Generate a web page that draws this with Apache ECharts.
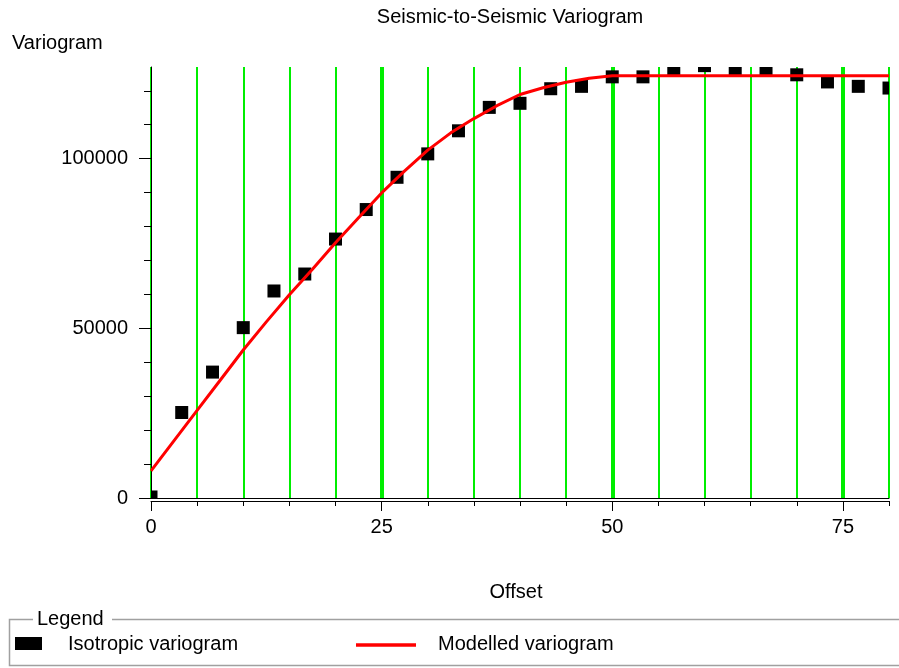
<!DOCTYPE html>
<html>
<head>
<meta charset="utf-8">
<title>Seismic-to-Seismic Variogram</title>
<script src="https://cdn.jsdelivr.net/npm/echarts@6/dist/echarts.min.js"></script>
<style>
  html, body { margin: 0; padding: 0; background: #ffffff; }
  #chart { width: 899px; height: 668px; }
</style>
</head>
<body>
<div id="chart"></div>
<script>
// Experimental (isotropic) variogram: lag offset and semivariance
const LAG_OFFSETS = [0, 3.33, 6.67, 10, 13.33, 16.67, 20, 23.33, 26.67, 30, 33.33, 36.67, 40,
                     43.33, 46.67, 50, 53.33, 56.67, 60, 63.33, 66.67, 70, 73.33, 76.67, 80];
const LAG_VARIOGRAM = [300, 25200, 37100, 50200, 61000, 66000, 76300, 85000, 94500, 101400, 108200,
                       115100, 116300, 120600, 121300, 124100, 124100, 126300, 127400, 126300,
                       126300, 124700, 122600, 121300, 120800];

// Fitted model curve
const MODEL_OFFSETS = [0, 2.5, 5, 7.5, 10, 12.5, 15, 17.5, 20, 22.5, 25, 27.5, 30, 32.5, 35, 37.5,
                       40, 42.5, 45, 47.5, 50, 55, 60, 65, 70, 75, 80];
const MODEL_VARIOGRAM = [8000, 16900, 25800, 34700, 43600, 51900, 59900, 67400, 75200, 82600, 89900,
                         96400, 102500, 107600, 111800, 115600, 118900, 120900, 122500, 123700,
                         124400, 124400, 124400, 124400, 124400, 124400, 124400];

// Axis ranges and tick labels
const X_MAX = 80;
const Y_MAX = 127000;
const X_TICK_LABELS = [0, 25, 50, 75];
const Y_TICK_LABELS = [0, 50000, 100000];
const Y_MINOR_TICKS = [10000, 20000, 30000, 40000, 60000, 70000, 80000, 90000, 110000, 120000];

const FONT_FAMILY = '"Liberation Sans", Arial, sans-serif';
const FONT = '20px ' + FONT_FAMILY;
const GREEN = '#00ee00';
const MARK_SIZE = 13;

const chart = echarts.init(document.getElementById('chart'), null, { renderer: 'canvas' });

const baseX = { type: 'value', min: 0, max: X_MAX, position: 'bottom' };
const baseY = { type: 'value', min: 0, max: Y_MAX, position: 'left', offset: 4, splitLine: { show: false } };

const option = {
  backgroundColor: '#ffffff',
  animation: false,
  grid: { left: 151, right: 10, top: 67, bottom: 170 },
  xAxis: [
    // fine grid every 5 + upper axis line
    Object.assign({}, baseX, {
      interval: 5, offset: 0,
      axisLine: { show: true, lineStyle: { color: '#000', width: 1 } },
      axisTick: { show: false }, axisLabel: { show: false },
      splitLine: { show: true, lineStyle: { color: GREEN, width: 2 } }
    }),
    // heavy grid every 25
    Object.assign({}, baseX, {
      interval: 25, offset: 0,
      axisLine: { show: false }, axisTick: { show: false }, axisLabel: { show: false },
      splitLine: { show: true, showMinLine: false, showMaxLine: false, lineStyle: { color: GREEN, width: 4 } }
    }),
    // lower axis line with minor ticks
    Object.assign({}, baseX, {
      interval: 5, offset: 3,
      axisLine: { show: true, lineStyle: { color: '#000', width: 1 } },
      axisTick: { show: true, length: 5, lineStyle: { color: '#000' } },
      axisLabel: { show: false }, splitLine: { show: false }
    }),
    // major ticks and labels
    Object.assign({}, baseX, {
      interval: 25, offset: 3,
      axisLine: { show: false },
      axisTick: { show: true, length: 10, customValues: X_TICK_LABELS, lineStyle: { color: '#000' } },
      axisLabel: { show: true, customValues: X_TICK_LABELS, margin: 16, color: '#000',
                   fontSize: 20, fontFamily: FONT_FAMILY, formatter: v => String(v) },
      splitLine: { show: false }
    })
  ],
  yAxis: [
    Object.assign({}, baseY, {
      interval: 50000,
      axisLine: { show: true, lineStyle: { color: '#000', width: 1 } },
      axisTick: { show: true, length: 12, customValues: Y_TICK_LABELS, lineStyle: { color: '#000' } },
      axisLabel: { show: true, customValues: Y_TICK_LABELS, margin: 19, color: '#000',
                   fontSize: 20, fontFamily: FONT_FAMILY, formatter: v => String(v) }
    }),
    Object.assign({}, baseY, {
      interval: 10000,
      axisLine: { show: false },
      axisTick: { show: true, length: 7, customValues: Y_MINOR_TICKS, lineStyle: { color: '#000' } },
      axisLabel: { show: false }
    })
  ],
  series: [
    {
      name: 'Isotropic variogram',
      type: 'custom',
      xAxisIndex: 0,
      yAxisIndex: 0,
      data: LAG_OFFSETS.map((x, i) => [x, LAG_VARIOGRAM[i]]),
      encode: { x: 0, y: 1 },
      renderItem: function (params, api) {
        const c = api.coord([api.value(0), api.value(1)]);
        const half = MARK_SIZE / 2;
        const cs = params.coordSys;
        const shape = echarts.graphic.clipRectByRect(
          { x: c[0] - half, y: c[1] - half, width: MARK_SIZE, height: MARK_SIZE },
          { x: cs.x, y: cs.y, width: cs.width, height: cs.height }
        );
        return shape ? { type: 'rect', shape: shape, style: { fill: '#000' } } : null;
      },
      z: 3
    },
    {
      name: 'Modelled variogram',
      type: 'line',
      xAxisIndex: 0,
      yAxisIndex: 0,
      data: MODEL_OFFSETS.map((x, i) => [x, MODEL_VARIOGRAM[i]]),
      showSymbol: false,
      symbol: 'none',
      smooth: false,
      lineStyle: { color: '#ff0000', width: 3 },
      z: 4
    }
  ],
  graphic: {
    elements: [
      { type: 'text', x: 510, y: 17,
        style: { text: 'Seismic-to-Seismic Variogram', font: FONT, fill: '#000', align: 'center', verticalAlign: 'middle' } },
      { type: 'text', x: 12, y: 43,
        style: { text: 'Variogram', font: FONT, fill: '#000', align: 'left', verticalAlign: 'middle' } },
      { type: 'text', x: 516, y: 592,
        style: { text: 'Offset', font: FONT, fill: '#000', align: 'center', verticalAlign: 'middle' } },
      // legend group box
      { type: 'polyline', shape: { points: [[33, 619.5], [9.5, 619.5], [9.5, 665.5], [899, 665.5]] },
        style: { stroke: '#a0a0a0', lineWidth: 1.5, fill: null } },
      { type: 'line', shape: { x1: 112, y1: 619.5, x2: 899, y2: 619.5 },
        style: { stroke: '#a0a0a0', lineWidth: 1.5 } },
      { type: 'text', x: 37, y: 619,
        style: { text: 'Legend', font: FONT, fill: '#000', align: 'left', verticalAlign: 'middle' } },
      { type: 'rect', shape: { x: 15, y: 637, width: 27, height: 13 }, style: { fill: '#000' } },
      { type: 'text', x: 68, y: 644,
        style: { text: 'Isotropic variogram', font: FONT, fill: '#000', align: 'left', verticalAlign: 'middle' } },
      { type: 'line', shape: { x1: 356, y1: 645, x2: 416, y2: 645 },
        style: { stroke: '#ff0000', lineWidth: 3.5 } },
      { type: 'text', x: 438, y: 644,
        style: { text: 'Modelled variogram', font: FONT, fill: '#000', align: 'left', verticalAlign: 'middle' } }
    ]
  }
};

chart.setOption(option);
</script>
</body>
</html>
